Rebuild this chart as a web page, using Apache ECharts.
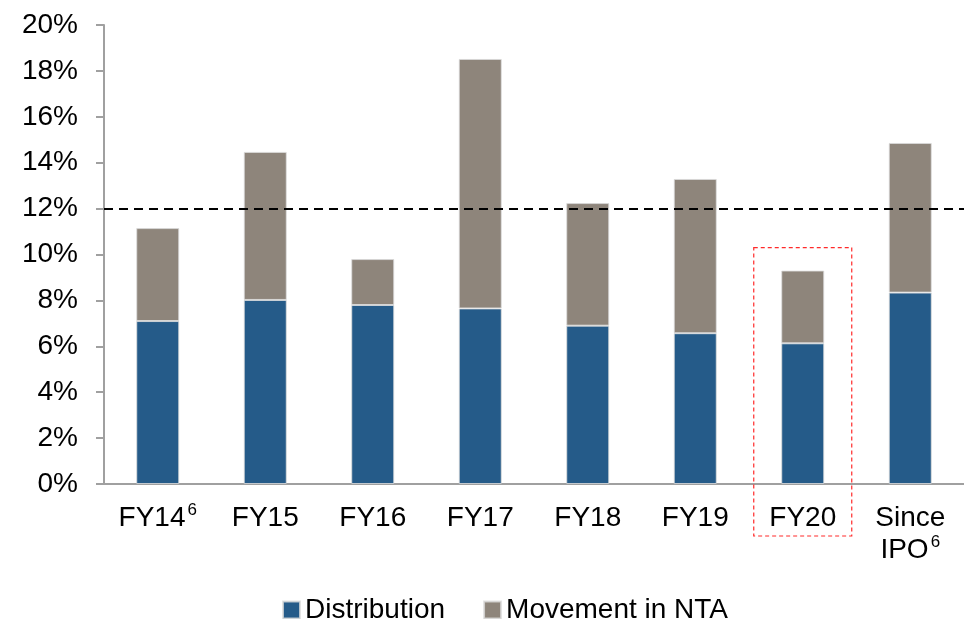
<!DOCTYPE html>
<html><head><meta charset="utf-8">
<script src="https://cdn.jsdelivr.net/npm/echarts@6/dist/echarts.min.js"></script>
<style>html,body{margin:0;padding:0;background:#fff}#c{width:964px;height:619px}</style>
</head><body><div id="c"></div>
<script>
const categories = ['FY14{sup|6}', 'FY15', 'FY16', 'FY17', 'FY18', 'FY19', 'FY20', 'Since\nIPO{sup|6}'];
const distribution = [7.10, 8.02, 7.80, 7.65, 6.90, 6.57, 6.13, 8.34];
const movementNTA = [4.05, 6.45, 2.00, 10.87, 5.34, 6.72, 3.17, 6.52];
const targetLine = 12;
const yTicks = [0, 20, 2];
const highlightIndex = 6;

const chart = echarts.init(document.getElementById('c'), null, {renderer: 'canvas'});
const font = 'Liberation Sans, Arial, sans-serif';
const axisGray = '#a0a0a0';
chart.setOption({
  animation: false,
  textStyle: {fontFamily: font},
  grid: {left: 104, right: -10, top: 25, bottom: 135},
  legend: {
    top: 591, left: 277, itemWidth: 17, itemHeight: 17, itemGap: 38,
    icon: 'rect',
    textStyle: {fontSize: 28, color: '#000', fontFamily: font},
    data: ['Distribution', 'Movement in NTA']
  },
  xAxis: {
    type: 'category', data: categories,
    axisLine: {lineStyle: {color: axisGray, width: 2}},
    axisTick: {length: 8, lineStyle: {color: axisGray, width: 2}},
    axisLabel: {
      interval: 0,
      color: '#000', fontSize: 28, margin: 18, lineHeight: 32, fontFamily: font,
      rich: {sup: {fontSize: 17, verticalAlign: 'top', padding: [0, 0, 14, 2], color: '#000', fontFamily: font}}
    }
  },
  yAxis: {
    type: 'value', min: yTicks[0], max: yTicks[1], interval: yTicks[2],
    splitLine: {show: false},
    axisLine: {show: true, lineStyle: {color: axisGray, width: 2}},
    axisTick: {show: true, length: 8, lineStyle: {color: axisGray, width: 2}},
    axisLabel: {color: '#000', fontSize: 28, margin: 26, fontFamily: font, formatter: '{value}%'}
  },
  series: [
    {
      name: 'Distribution', type: 'bar', stack: 'a', data: distribution, barWidth: '40%',
      itemStyle: {color: '#255b89', borderColor: 'rgba(220,220,220,0.8)', borderWidth: 1},
      markLine: {
        silent: true, symbol: 'none', label: {show: false},
        lineStyle: {color: '#000', type: [9, 6], width: 2},
        data: [{yAxis: targetLine}]
      }
    },
    {
      name: 'Movement in NTA', type: 'bar', stack: 'a', data: movementNTA, barWidth: '40%',
      itemStyle: {color: '#8e857b', borderColor: 'rgba(220,220,220,0.8)', borderWidth: 1}
    }
  ]
});

const cx = chart.convertToPixel({xAxisIndex: 0}, highlightIndex);
const yTop = chart.convertToPixel({yAxisIndex: 0}, 10.3);
const y0 = chart.convertToPixel({yAxisIndex: 0}, 0);
chart.setOption({
  graphic: [{
    type: 'rect', z: 100,
    shape: {x: cx - 49, y: yTop, width: 98, height: (y0 + 52) - yTop},
    style: {fill: 'none', stroke: '#ff2a2a', lineWidth: 1.2, lineDash: [4, 3]}
  }]
});
</script></body></html>
